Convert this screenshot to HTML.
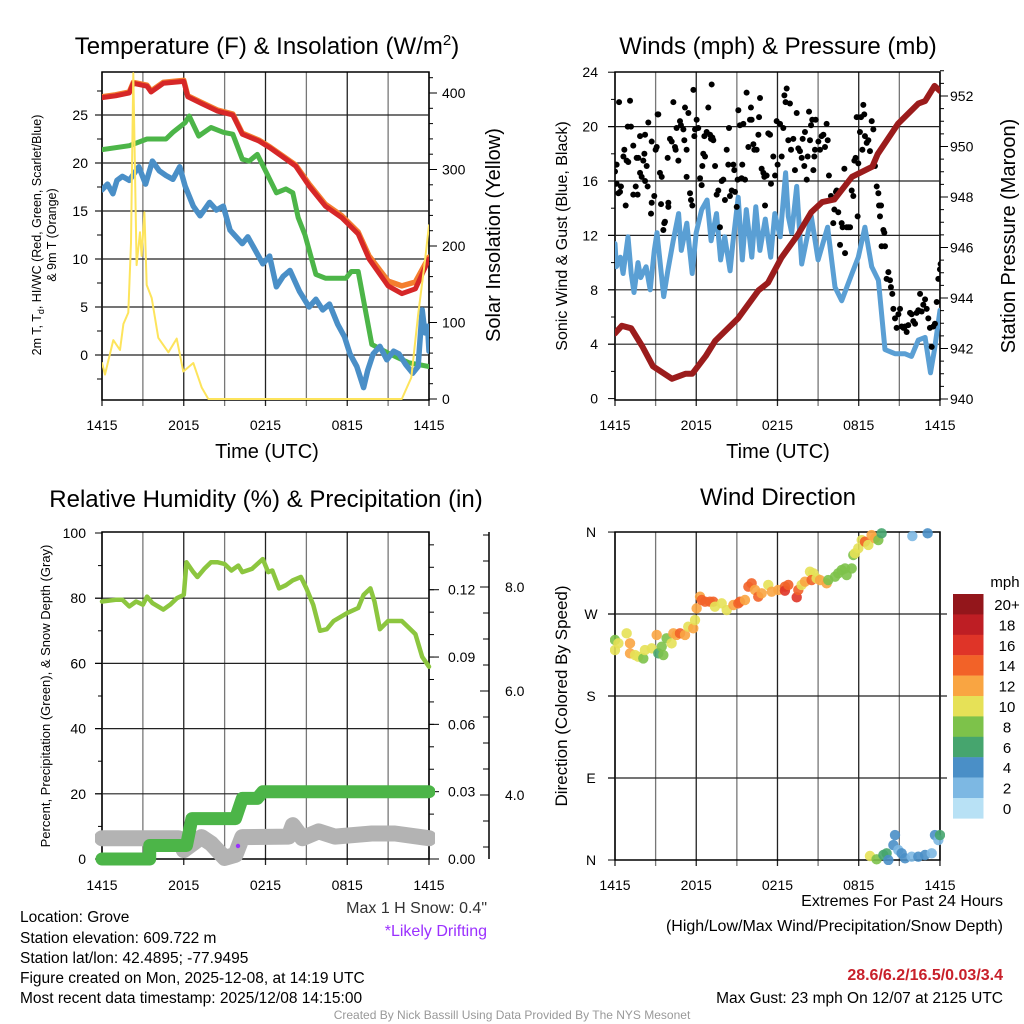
<!DOCTYPE html>
<html><head><meta charset="utf-8"><style>
html,body{margin:0;padding:0;background:#fff;}
svg{display:block;font-family:"Liberation Sans",Arial,sans-serif;}
</style></head><body>
<svg id="c" width="1024" height="1024" viewBox="0 0 1024 1024" xmlns="http://www.w3.org/2000/svg">
<defs>
<clipPath id="cp1"><rect x="102" y="72" width="327" height="328"/></clipPath>
<clipPath id="cp2"><rect x="615" y="72" width="325" height="328"/></clipPath>
<clipPath id="cp3"><rect x="95" y="532" width="340" height="340"/></clipPath>
<clipPath id="cp4"><rect x="610" y="527" width="335" height="338"/></clipPath>
</defs>
<g id="root"></g>
</svg>
<script>
// ---------- Panel 1: temperature ----------
const hoursTicks = [0, 6, 12, 18, 24];
const timeLabels = ["1415", "2015", "0215", "0815", "1415"];
const tempTicks = [0, 5, 10, 15, 20, 25];
const insolTicks = [0, 100, 200, 300, 400];
const tempH = [0,1,2,2.3,3.3,3.6,4.5,6,6.3,7.3,8.5,9.6,10.3,11.5,12.3,14.2,15.2,16.4,17.6,18.8,19.6,21,22,23,24];
const tempRed = [26.8,27,27.3,28.3,28,27.4,28.3,28.5,26.9,26.2,25.4,25,23,22.3,21.6,19.7,17.6,15.5,14.3,12.6,10,7.2,6.4,6.9,10];
const tempOrange = [26.9,27.1,27.4,28.4,28.1,27.5,28.4,28.6,27,26.3,25.5,25.1,23.1,22.4,21.7,19.8,17.8,15.7,14.5,12.8,10.3,7.7,7.2,7.6,10.2];
const dewH = [0,2,3.3,4.7,5.2,6.1,6.4,7.1,8,8.9,9.6,10.3,10.8,11.4,12,12.8,13.5,14,14.4,14.9,15.7,16.4,17.9,18.3,18.8,19.3,19.8,21,22.5,24];
const dewVals = [21.4,21.8,22.5,22.5,23.2,24.2,24.9,22.8,23.7,23.2,23,20.4,20.2,20.9,19.2,16.9,17.3,16.9,14.3,12.5,8.4,8,8,8.7,8.7,4.9,1.1,0.2,-0.8,-1.2];
const wcH = [0,0.4,0.8,1.1,1.5,2,2.7,3.2,3.7,4.2,4.7,5.2,5.7,6.1,6.7,7.2,7.9,8.4,8.9,9.4,10.3,10.7,11.1,11.8,12.3,12.8,13.3,13.8,14.5,15.2,15.7,16.2,16.7,17.3,17.8,18.2,18.7,19.2,19.5,19.9,20.4,20.9,21.4,21.8,22.3,22.8,23.2,23.5,23.7,23.9,24];
const wcVals = [17.2,17.8,16.8,18.2,18.6,18.2,19.6,17.8,20.2,19.2,18.7,18.3,19.6,17.6,15.5,14.5,15.9,15.1,15.5,13,11.6,12.3,11.3,9.5,10.3,7.1,8.2,8.8,6.6,5,5.8,4.7,5.3,3.2,1.9,0.1,-1.2,-3.4,-1.6,0.1,0.9,-0.5,0.4,0.1,-1,-1.9,-1.2,4.7,2.3,3,0.4];
const solH = [0,0.22,0.83,1.32,1.57,1.93,2.13,2.3,2.54,2.79,2.91,3.11,3.28,3.65,4.13,4.87,5.48,5.97,6.7,7.32,7.8,22,22.7,23.2,23.7,24];
const solVals = [47,32,77,64,98,113,204,426,175,218,187,244,149,132,80,61,79,36,47,15,0,0,28,110,180,227];

// ---------- Panel 2: winds ----------
const mphTicks = [0, 4, 8, 12, 16, 20, 24];
const presTicks = [940, 942, 944, 946, 948, 950, 952];
const presH = [0,0.5,1.2,2,2.8,4.2,5.2,5.7,6.7,7.4,9.1,10.6,11.3,12.3,13.5,14.5,15.3,16.2,17.5,19,19.4,20.9,22.4,22.9,23.6,24];
const presVals = [942.6,942.9,942.8,942.1,941.3,940.8,941,941,941.7,942.3,943.2,944.3,944.6,945.6,946.5,947.4,947.8,947.9,948.8,949.2,949.7,950.9,951.7,951.8,952.4,952.2];
const windH = [0,0.1,0.4,0.6,0.96,1.2,1.4,1.7,1.9,2.3,2.6,2.9,3.1,3.6,3.9,4.3,4.7,4.9,5.3,5.7,6,6.4,6.8,7.1,7.5,7.8,8.1,8.5,8.7,9.1,9.4,9.7,10.1,10.4,10.7,11.1,11.5,11.8,12.2,12.6,12.8,13.05,13.42,13.79,14.5,15,15.7,16.25,16.74,17.5,17.97,18.46,18.96,19.45,19.94,20.68,21.4,21.9,22.4,22.9,23.3,23.6,24];
const windVals = [11.4,9.7,10.4,9.2,11.9,9.2,7.8,10,8.9,9.7,8,10.9,12.2,7.5,9.4,11.6,13.6,10.9,12.9,9.2,12.2,13.9,14.6,11.6,13.6,10.2,11.9,9.4,11.4,14.8,10.2,13.9,10.4,14.1,10.9,13.2,10.4,13.6,11.9,16.6,13.4,12.2,15.6,9.9,13.4,10.2,12.6,8.2,7.2,9.2,10.4,12.6,9.7,8.7,3.6,3.3,3.3,3.1,4.3,4.5,1.9,3.6,6.5];
const gustH = [0,0.12,0.3,0.12,0.37,0.25,0.79,0.44,0.69,0.62,0.86,0.98,0.94,1.11,1.18,1.35,1.35,1.53,1.6,1.72,1.67,1.85,1.85,1.97,2.09,2.17,2.22,2.34,2.22,2.41,2.46,2.71,2.71,2.66,2.9,3,3.08,3.15,3.2,3.32,3.45,3.4,3.57,3.64,3.69,3.94,3.94,3.89,4.06,4.19,4.31,4.43,4.55,4.48,4.68,4.8,4.87,5.05,5.12,5.17,5.29,5.42,5.29,5.54,5.61,5.71,5.79,5.86,5.91,6.03,6.15,6.28,6.4,6.45,6.52,6.6,6.65,6.77,6.89,7.02,7.09,7.14,7.19,7.26,7.39,7.51,7.63,7.75,7.88,8,8.12,8.25,8.37,8.42,8.49,8.62,8.74,8.81,8.86,8.99,9.06,9.11,9.23,9.35,9.4,9.48,9.6,9.72,9.85,9.97,10.04,10.09,10.22,10.29,10.46,10.59,10.64,10.71,10.83,10.96,11.03,11.08,11.2,11.32,11.45,11.52,11.69,11.82,11.94,12.01,12.19,12.31,12.43,12.51,12.6,12.68,12.8,12.92,13,13.17,13.29,13.42,13.54,13.66,13.79,13.86,13.98,14.03,14.16,14.23,14.33,14.4,14.48,14.57,14.65,14.72,14.77,14.82,15.02,15.14,15.26,15.39,15.51,15.63,15.71,15.8,15.95,16.12,16.2,16.32,16.37,16.49,16.62,16.74,16.81,16.94,16.99,17.11,17.23,17.36,17.48,17.6,17.68,17.77,17.85,17.92,17.97,18.09,18.17,18.27,18.34,18.41,18.46,18.59,18.71,18.83,18.96,19.08,19.2,19.33,19.45,19.5,19.57,19.65,19.69,19.82,19.89,19.94,20.06,20.19,20.31,20.38,20.48,20.56,20.68,20.8,20.93,21.05,21.17,21.3,21.42,21.54,21.66,21.79,21.91,22.03,22.16,22.28,22.4,22.53,22.65,22.77,22.9,23.02,23.14,23.26,23.39,23.51,23.63,23.76,23.88,24,24.05];
const gustVals = [16.7,17.2,21.8,15.8,15.2,15.1,14.2,15.6,18.3,17.8,17.5,17.4,20,21.9,20,18.6,15,15.6,17.7,17.7,15,19.3,16.6,16.3,17.5,18,19.4,17.1,16,15.6,20.3,18.9,14.4,13.6,14.9,18.3,18.5,20.9,20.9,16.6,16.3,14.3,12.4,12.9,13,14.1,14.4,17.7,19.1,18.9,21.8,18.5,19.9,18.3,17.5,20.4,20.1,19.8,19,21.4,18.3,21,16.3,15.1,14.6,14.2,22.7,19.3,19.8,20.5,19.9,16.2,15.7,17.1,18,19.3,17.8,19.6,21.4,19.4,19.1,23.1,19.2,19,17.1,15,15.3,12.6,16,16.1,14.6,18.3,17.2,19.9,14.9,15.3,17.2,16.8,15.2,14.1,16.1,21.2,20.1,16.2,17.2,20.2,16.1,22.5,18.5,20.5,21.4,20.5,18.7,18.3,18.3,19.4,20.7,22.1,16.9,16.6,16.3,14.2,16.4,19.5,19.4,15.8,17.8,16.4,20.4,17.2,20.2,17.8,19.9,22.3,21.8,22.8,19,21.7,18.3,19.1,16.8,21,18.4,18.2,17.7,19.1,17.1,19.6,16.1,17.8,21.1,19,20.1,20.5,16.8,17.8,18.3,20.5,18.9,18.3,19.3,19.4,18.5,20.2,19,16.4,14.9,12.9,13.9,15.2,15.3,13.7,11.3,12.9,12.6,16.9,10.7,12.6,12.6,12.6,15.3,14.9,17.5,17.7,20.7,13.4,17.3,19.6,20.7,18.3,21.6,20.9,19.3,18.8,19,18.2,20.4,19.8,17.1,15.6,15.1,14.2,13.4,14.2,11.2,12.4,12.2,11.2,8.8,9.3,8.7,8.2,7.7,6.6,5.9,5.2,6.2,6.6,5.3,5.2,5.3,4.9,5.4,6.3,6.2,5.7,5.5,6.3,6.5,7.7,6.4,6.9,7.3,6.6,5.9,5.2,3.8,5.3,5.5,7.1,8.8,9.5,9.9];

// ---------- Panel 3: RH / precip / snow ----------
const rhTicks = [0, 20, 40, 60, 80, 100];
const precipTicks = [0, 0.03, 0.06, 0.09, 0.12];
const precipTickLabels = ["0.00", "0.03", "0.06", "0.09", "0.12"];
const snowTicks = [4, 6, 8];
const snowTickLabels = ["4.0", "6.0", "8.0"];
const rhH = [0,1,1.5,2,2.5,3,3.3,3.7,4.5,5,5.5,6,6.2,6.7,7,7.5,8,8.5,9,9.5,10,10.3,11,11.8,12.2,12.5,13,13.5,14,14.6,15,15.5,16,16.5,17,18,18.8,19.2,19.7,20,20.4,21,21.5,22,22.5,23,23.5,24];
const rhVals = [79,79.5,79.5,77.5,79,78,80.5,78.5,76.5,78,80,81,91,88,86.5,89,91,91,90.5,88.5,90,88,89,92,88,88.5,83,84,85.5,86.5,83,78,70,70.5,73,75.5,77,81,83,79,70.5,73,73,73,71,69,62,59];
const precipH = [0,3.5,3.5,6.2,6.6,9.8,10.3,11.4,11.8,24];
const precipVals = [0,0,0.006,0.006,0.018,0.018,0.027,0.027,0.03,0.03];
const snowH = [0,5.6,6,7.3,8,9,9.8,10.3,13.7,14,14.7,15.9,17.1,19.8,21.5,24];
const snowVals = [3.17,3.17,2.94,3.19,3.07,2.79,2.85,3.19,3.2,3.42,3.17,3.3,3.2,3.26,3.26,3.17];

// ---------- Panel 4: wind direction ----------
const dirTicks = [0, 90, 180, 270, 360];
const dirLabels = ["N", "E", "S", "W", "N"];
const speedBins = ["0","2","4","6","8","10","12","14","16","18","20+"];
const speedColors = ["#b8e1f5","#7db8e3","#4a8fc7","#46a56e","#7dc24a","#e6e157","#f9a542","#f26228","#df3428","#be1e24","#93161b"];
const dirH = [0,0,0.25,0.86,1.11,1.11,1.48,1.72,2.09,2.21,2.71,3.08,3.2,3.45,3.57,3.81,4.18,4.31,4.55,4.8,5.17,5.41,5.78,5.91,6.03,6.28,6.4,6.65,7.01,7.26,7.38,7.88,8.25,8.74,9.11,9.23,9.6,9.85,10.09,10.34,10.58,10.83,11.32,11.57,12.06,12.55,12.55,12.8,13.42,13.54,13.78,14.03,14.4,14.65,14.52,14.89,15.14,15.63,15.75,16.25,16.49,16.74,16.99,17.11,17.48,17.6,17.72,17.97,18.22,18.46,18.71,18.95,19.2,19.45,19.69,21.96,23.09,18.83,19.32,19.82,20.06,20.19,20.68,20.56,20.92,21.17,21.42,21.91,22.4,22.9,23.39,23.63,23.88,24];
const dirVals = [241.5,230.5,237.8,248.8,237.8,226.8,225,223.2,221.3,230.5,232.3,247,226.8,234.2,225,243.3,237.8,248.8,247,248.8,247,256.1,254.3,263.4,276.2,289,285.4,283.6,283.6,283.6,278.1,281.7,274.4,279.9,281.7,283.6,285.4,300,303.7,296.4,289,292.7,301.9,294.5,296.4,300,295.6,301.9,288.3,296.4,301.9,305.5,316.5,314.7,307.3,309.2,307.3,303.7,307.3,311,314.7,318.3,320.1,312.8,320.1,334.8,336.6,342.1,351.2,349.4,345.8,356.7,353.1,351.2,358.6,355.6,358.6,4.4,0.7,5.5,7.3,0,27.4,16.4,10.9,7.3,1.8,3.6,3.6,5.5,7.3,27.4,21.9,27.4];
const dirSpeeds = [8,10,10,10,12,12,10,10,8,10,10,12,6,8,8,8,10,12,12,14,12,10,12,10,12,12,14,14,14,14,10,10,10,12,14,14,12,14,14,12,14,12,10,12,12,14,16,14,16,14,10,12,10,10,14,10,12,12,8,8,8,8,8,8,8,8,10,10,10,14,10,12,12,8,6,2,4,10,8,6,6,4,4,4,2,4,4,2,4,4,2,4,2,6];

// ---------- helpers ----------
const NS = "http://www.w3.org/2000/svg";
const root = document.getElementById("root");
function mk(tag, attrs, parent) {
  const e = document.createElementNS(NS, tag);
  for (const k in attrs) e.setAttribute(k, attrs[k]);
  (parent || root).appendChild(e);
  return e;
}
function txt(x, y, s, size, anchor, parent, extra) {
  const t = mk("text", Object.assign({x: x, y: y, "font-size": size, "text-anchor": anchor || "start", fill: "#000"}, extra || {}), parent);
  t.textContent = s;
  return t;
}
function pathFrom(xs, ys, fx, fy) {
  let d = "";
  for (let i = 0; i < xs.length; i++) d += (i ? "L" : "M") + fx(xs[i]).toFixed(1) + "," + fy(ys[i]).toFixed(1);
  return d;
}
function speedColor(s) { let i = Math.round(s / 2); if (i > 10) i = 10; if (i < 0) i = 0; return speedColors[i]; }

// scales
const x1 = h => 102 + h * 13.625;
const yT = t => 355 - t * 9.6;
const yW = w => 399 - w * 0.765;
const x2 = h => 615 + h * 13.54;
const yM = m => 398.6 - m * 13.6;
const yP = p => 399 - (p - 940) * 25.25;
const yR = r => 859 - r * 3.26;
const yPr = v => 859 - v * 2244;
const yS = s => 795 - (s - 4) * 52;
const yD = d => 860 - d * 0.911;

function frame(L, T, R, B, xf, g) {
  for (let h = 0; h <= 24; h += 3) {
    const l = mk("line", {x1: xf(h), x2: xf(h), y1: T, y2: B + 6, stroke: h % 6 === 0 ? "#222" : "#777", "stroke-width": 1.3}, g);
    
    
  }
  const r = mk("rect", {x: L, y: T, width: R - L, height: B - T, fill: "none", stroke: "#000", "stroke-width": 1.5}, g);
  
  
}
function xLabels(xf, y, g) {
  for (let i = 0; i < hoursTicks.length; i++) {
    const t = txt(xf(hoursTicks[i]), y, timeLabels[i], 14, "middle", g);
    
    
  }
}
function hgrid(L, R, ys, g, outL, outR) {
  ys.forEach(y => {
    const l = mk("line", {x1: L - outL, x2: R + outR, y1: y, y2: y, stroke: "#222", "stroke-width": 1.2}, g);
    
    
  });
}

// ================= Panel 1 =================
const g1 = mk("g", {});


frame(102, 72, 429, 400, x1, g1);
hgrid(102, 429, tempTicks.map(yT), g1, 7, 0);
for (let t = -2.5; t <= 27.5; t += 5) mk("line", {x1: 97, x2: 102, y1: yT(t), y2: yT(t), stroke: "#000"}, g1);
tempTicks.forEach(t => { const e = txt(88, yT(t) + 5, String(t), 14, "end", g1);   });
for (let w = 0; w <= 420; w += 20) mk("line", {x1: 429, x2: w % 100 === 0 ? 437 : 433, y1: yW(w), y2: yW(w), stroke: "#000"}, g1);
insolTicks.forEach(w => { const e = txt(442, yW(w) + 5, String(w), 14, "start", g1);   });
xLabels(x1, 430, g1);
const c1 = mk("g", {"clip-path": "url(#cp1)", fill: "none", "stroke-linejoin": "round", "stroke-linecap": "round"}, g1);
let p;
p = mk("path", {d: pathFrom(tempH, tempOrange, x1, yT), stroke: "#f47e2f", "stroke-width": 5.5}, c1);
 
p = mk("path", {d: pathFrom(tempH, tempRed, x1, yT), stroke: "#d62728", "stroke-width": 5}, c1);
 
p = mk("path", {d: pathFrom(dewH, dewVals, x1, yT), stroke: "#4cb548", "stroke-width": 5}, c1);
 
p = mk("path", {d: pathFrom(wcH, wcVals, x1, yT), stroke: "#4a8fc7", "stroke-width": 5.5}, c1);
 
p = mk("path", {d: pathFrom(solH, solVals, x1, yW), stroke: "#fde45c", "stroke-width": 2}, c1);
 
let tt = mk("text", {x: 267, y: 54, "font-size": 24, "text-anchor": "middle"}, g1);
tt.innerHTML = 'Temperature (F) &amp; Insolation (W/m<tspan dy="-9" font-size="15">2</tspan><tspan dy="9">)</tspan>';
 
tt = txt(267, 458, "Time (UTC)", 20, "middle", g1);
 
tt = mk("text", {x: 0, y: 0, "font-size": 12.5, "text-anchor": "middle", transform: "translate(41,235) rotate(-90)"}, g1);
tt.innerHTML = '2m T, T<tspan dy="3" font-size="9">d</tspan><tspan dy="-3">, HI/WC (Red, Green, Scarlet/Blue)</tspan>';
 
tt = mk("text", {x: 0, y: 0, "font-size": 12.5, "text-anchor": "middle", transform: "translate(56,235) rotate(-90)"}, g1);
tt.textContent = "& 9m T (Orange)";
 
tt = mk("text", {x: 0, y: 0, "font-size": 20, "text-anchor": "middle", transform: "translate(500,235) rotate(-90)"}, g1);
tt.textContent = "Solar Insolation (Yellow)";
 

// ================= Panel 2 =================
const g2 = mk("g", {});


frame(615, 72, 940, 400, x2, g2);
hgrid(615, 940, mphTicks.slice(1, 6).map(yM), g2, 7, 0);
for (let m = 0; m <= 24; m += 2) mk("line", {x1: m % 4 === 0 ? 608 : 611, x2: 615, y1: yM(m), y2: yM(m), stroke: "#000"}, g2);
mphTicks.forEach(m => { const e = txt(598, yM(m) + 5, String(m), 14, "end", g2);   });
for (let q = 940; q <= 953; q += 0.5) mk("line", {x1: 940, x2: (q % 2 === 0) ? 948 : 944, y1: yP(q), y2: yP(q), stroke: "#000"}, g2);
presTicks.forEach(q => { const e = txt(950, yP(q) + 5, String(q), 14, "start", g2);   });
xLabels(x2, 430, g2);
const c2 = mk("g", {"clip-path": "url(#cp2)", fill: "none", "stroke-linejoin": "round", "stroke-linecap": "round"}, g2);
p = mk("path", {d: pathFrom(windH, windVals, x2, yM), stroke: "#5a9fd4", "stroke-width": 5}, c2);
 
for (let i = 0; i < gustH.length; i++) {
  const d = mk("circle", {cx: x2(gustH[i]), cy: yM(gustVals[i]), r: 3, fill: "#000"}, c2);
  
  
}
p = mk("path", {d: pathFrom(presH, presVals, x2, yP), stroke: "#9b1c1c", "stroke-width": 6}, c2);
 
tt = txt(778, 54, "Winds (mph) & Pressure (mb)", 24, "middle", g2);
 
tt = txt(778, 458, "Time (UTC)", 20, "middle", g2);
 
tt = mk("text", {x: 0, y: 0, "font-size": 16, "text-anchor": "middle", transform: "translate(567,236) rotate(-90)"}, g2);
tt.textContent = "Sonic Wind & Gust (Blue, Black)";
 
tt = mk("text", {x: 0, y: 0, "font-size": 20, "text-anchor": "middle", transform: "translate(1015,236) rotate(-90)"}, g2);
tt.textContent = "Station Pressure (Maroon)";
 

// ================= Panel 3 =================
const g3 = mk("g", {});


frame(102, 532, 429, 859, x1, g3);
hgrid(102, 429, rhTicks.slice(1, 5).map(yR), g3, 7, 0);
for (let r = 0; r <= 100; r += 10) mk("line", {x1: r % 20 === 0 ? 95 : 98, x2: 102, y1: yR(r), y2: yR(r), stroke: "#000"}, g3);
rhTicks.forEach(r => { const e = txt(86, yR(r) + 5, String(r), 14, "end", g3);   });
for (let v = 0; v <= 0.145; v += 0.01) mk("line", {x1: 429, x2: 434, y1: yPr(v), y2: yPr(v), stroke: "#000"}, g3);
precipTicks.forEach((v, i) => {
  mk("line", {x1: 429, x2: 439, y1: yPr(v), y2: yPr(v), stroke: "#000"}, g3);
  const e = txt(448, yPr(v) + 5, precipTickLabels[i], 14, "start", g3);
   
});
let ax = mk("line", {x1: 489, x2: 489, y1: 532, y2: 859, stroke: "#000", "stroke-width": 1.5}, g3);
 
for (let s = 2.5; s <= 9; s += 0.5) { const y = yS(s); if (y >= 532 && y <= 859) mk("line", {x1: 483, x2: 489, y1: y, y2: y, stroke: "#000"}, g3); }
snowTicks.forEach((s, i) => {
  mk("line", {x1: 480, x2: 489, y1: yS(s), y2: yS(s), stroke: "#000"}, g3);
  const e = txt(505, yS(s) + 5, snowTickLabels[i], 14, "start", g3);
   
});
xLabels(x1, 890, g3);
const c3 = mk("g", {"clip-path": "url(#cp3)", fill: "none", "stroke-linejoin": "round", "stroke-linecap": "round"}, g3);
p = mk("path", {d: pathFrom(snowH, snowVals, x1, yS), stroke: "#b3b3b3", "stroke-width": 16}, c3);
 
p = mk("path", {d: pathFrom(precipH, precipVals, x1, yPr), stroke: "#4cb548", "stroke-width": 13}, c3);
 
p = mk("path", {d: pathFrom(rhH, rhVals, x1, yR), stroke: "#8cc63f", "stroke-width": 4.5}, c3);
 
p = mk("circle", {cx: 238, cy: 846, r: 2.2, fill: "#9b30ff"}, g3);
 
tt = txt(266, 507, "Relative Humidity (%) & Precipitation (in)", 24, "middle", g3);
 
tt = mk("text", {x: 0, y: 0, "font-size": 13, "text-anchor": "middle", transform: "translate(50,696) rotate(-90)"}, g3);
tt.textContent = "Percent, Precipitation (Green), & Snow Depth (Gray)";
 
tt = txt(487, 913, 'Max 1 H Snow: 0.4"', 16, "end", g3, {fill: "#333"});
 
tt = txt(487, 936, "*Likely Drifting", 16, "end", g3, {fill: "#9b30ff"});
 

// ================= Panel 4 =================
const g4 = mk("g", {});


frame(615, 532, 940, 860, x2, g4);
hgrid(615, 940, dirTicks.slice(1, 4).map(yD), g4, 7, 7);
dirTicks.forEach((d, i) => {
  mk("line", {x1: 608, x2: 615, y1: yD(d), y2: yD(d), stroke: "#000"}, g4);
  const e = txt(591, yD(d) + 5, dirLabels[i], 14, "middle", g4);
   
});
xLabels(x2, 890, g4);
const c4 = mk("g", {"clip-path": "url(#cp4)"}, g4);
for (let i = 0; i < dirH.length; i++) {
  const d = mk("circle", {cx: x2(dirH[i]), cy: yD(dirVals[i]), r: 5.2, fill: speedColor(dirSpeeds[i]), "fill-opacity": 0.9}, c4);
  
  
}
tt = txt(778, 505, "Wind Direction", 24, "middle", g4);
 
tt = mk("text", {x: 0, y: 0, "font-size": 17, "text-anchor": "middle", transform: "translate(567,696) rotate(-90)"}, g4);
tt.textContent = "Direction (Colored By Speed)";
 
const cb = mk("g", {}, g4);


tt = txt(1005, 587, "mph", 15, "middle", cb);
 
for (let i = 0; i < speedBins.length; i++) {
  const k = speedBins.length - 1 - i;
  const y = 594 + i * 20.4;
  const r = mk("rect", {x: 953, y: y, width: 30.5, height: 20.6, fill: speedColors[k]}, cb);
  
  
  const l = txt(1007, y + 16, speedBins[k], 15, "middle", cb);
  
  
}

// ================= Footer text =================
const ft = mk("g", {});


const infoLines = ["Location: Grove", "Station elevation: 609.722 m", "Station lat/lon: 42.4895; -77.9495", "Figure created on Mon, 2025-12-08, at 14:19 UTC", "Most recent data timestamp: 2025/12/08 14:15:00"];
const infoY = [922, 943, 963, 983, 1003];
infoLines.forEach((s, i) => { const e = txt(20, infoY[i], s, 15.5, "start", ft);   });
const ex = mk("g", {});


tt = txt(1003, 906, "Extremes For Past 24 Hours", 16, "end", ex);
 
tt = txt(1003, 931, "(High/Low/Max Wind/Precipitation/Snow Depth)", 16, "end", ex);
 
tt = txt(1003, 980, "28.6/6.2/16.5/0.03/3.4", 16, "end", ex, {fill: "#c8202a", "font-weight": "bold"});
 
tt = txt(1003, 1003, "Max Gust: 23 mph On 12/07 at 2125 UTC", 15.5, "end", ex);
 
tt = txt(512, 1019, "Created By Nick Bassill Using Data Provided By The NYS Mesonet", 12, "middle", root, {fill: "#999"});
 
</script>
</body></html>
